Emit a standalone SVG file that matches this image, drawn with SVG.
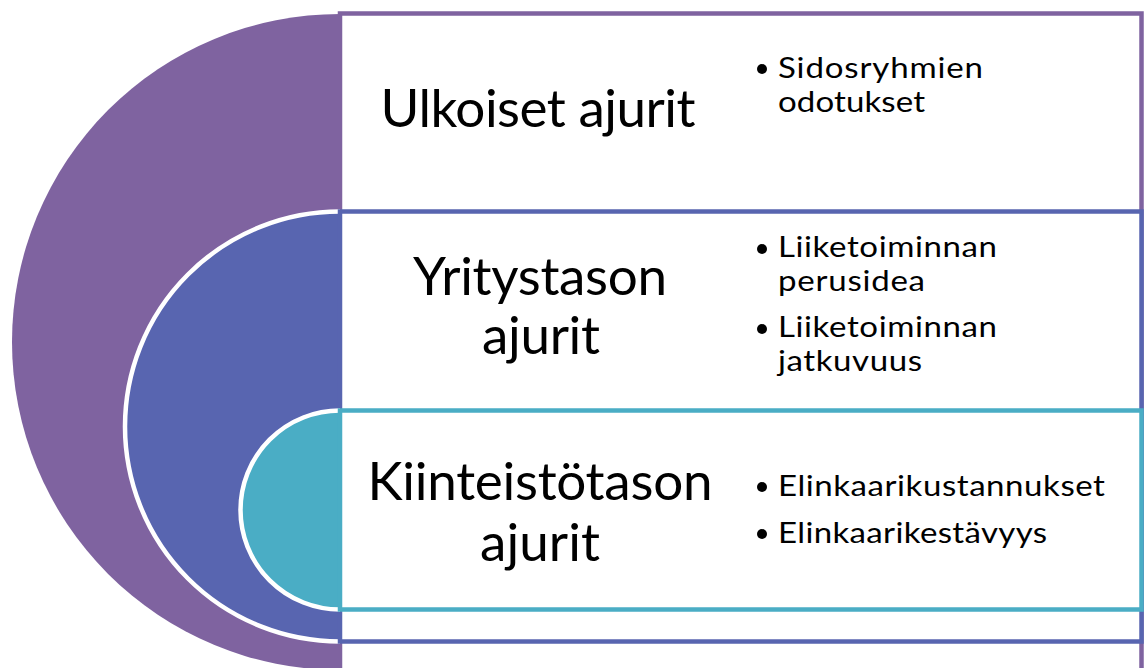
<svg xmlns="http://www.w3.org/2000/svg" width="1145" height="668" viewBox="0 0 1145 668">
  <style>
    .frame { fill: #ffffff; stroke-width: 4.5; }
    .rim { fill: none; stroke: #ffffff; stroke-width: 4.5; }
    .title { font-family: Lato, "Liberation Sans", sans-serif; font-size: 53px; fill: #000000; text-anchor: middle; }
    .item { font-family: Lato, "Liberation Sans", sans-serif; font-size: 28px; fill: #000000; }
    .dot { fill: #000000; }
  </style>
  <rect width="1145" height="668" fill="#ffffff"/>

  <!-- outer level: external drivers -->
  <g id="ulkoiset">
    <path d="M 340 14 A 328 328 0 0 0 340 670 Z" fill="#7f63a0"/>
    <rect class="frame" x="340" y="13.5" width="801.5" height="660" stroke="#7f63a0"/>
    <text class="title" x="538" y="127" textLength="315">Ulkoiset ajurit</text>
    <circle class="dot" cx="762" cy="69" r="5"/>
    <g transform="translate(778 0) scale(1.18 1)">
      <text class="item" x="0" y="78" textLength="173.7">Sidosryhmien</text>
      <text class="item" x="0" y="112" textLength="124.6">odotukset</text>
    </g>
  </g>

  <!-- middle level: company drivers -->
  <g id="yritystaso">
    <path d="M 340 211.5 A 215 215 0 0 0 340 641.5 Z" fill="#5865b0"/>
    <path class="rim" d="M 340 211.5 A 215 215 0 0 0 340 641.5"/>
    <rect class="frame" x="340" y="211.5" width="801.5" height="430" stroke="#5865b0"/>
    <text class="title" x="540" y="295" textLength="254">Yritystason</text>
    <text class="title" x="541" y="354" textLength="118">ajurit</text>
    <circle class="dot" cx="762" cy="249" r="5"/>
    <circle class="dot" cx="762" cy="329" r="5"/>
    <g transform="translate(778 0) scale(1.18 1)">
      <text class="item" x="0" y="257" textLength="185.6">Liiketoiminnan</text>
      <text class="item" x="0" y="291" textLength="124.6">perusidea</text>
      <text class="item" x="0" y="337" textLength="185.6">Liiketoiminnan</text>
      <text class="item" x="0" y="371" textLength="122">jatkuvuus</text>
    </g>
  </g>

  <!-- inner level: property drivers -->
  <g id="kiinteistotaso">
    <path d="M 340 410.5 A 99.5 99.5 0 0 0 340 609.5 Z" fill="#4aadc5"/>
    <path class="rim" d="M 340 410.5 A 99.5 99.5 0 0 0 340 609.5"/>
    <rect class="frame" x="340" y="410.5" width="801.5" height="199" stroke="#4aadc5"/>
    <text class="title" x="540" y="500" textLength="345">Kiinteistötason</text>
    <text class="title" x="540" y="561" textLength="120">ajurit</text>
    <circle class="dot" cx="762" cy="487" r="5"/>
    <circle class="dot" cx="762" cy="534" r="5"/>
    <g transform="translate(778 0) scale(1.18 1)">
      <text class="item" x="0" y="496" textLength="277.1">Elinkaarikustannukset</text>
      <text class="item" x="0" y="543" textLength="228">Elinkaarikestävyys</text>
    </g>
  </g>

  <!-- no connectors in this figure -->
  <g id="connectors"/>
</svg>
